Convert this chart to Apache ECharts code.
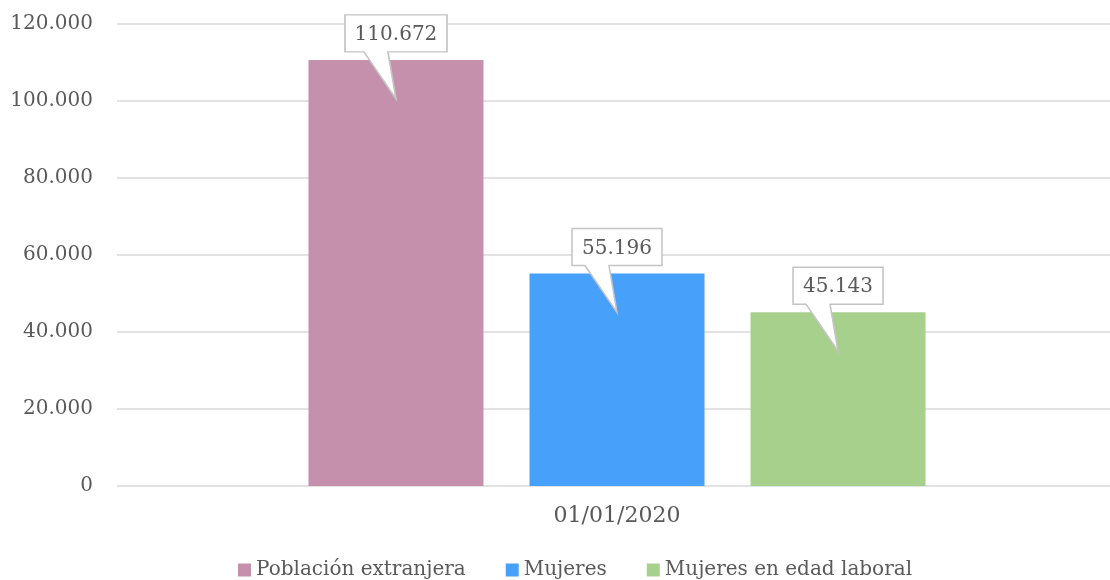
<!DOCTYPE html>
<html>
<head>
<meta charset="utf-8">
<script src="https://cdn.jsdelivr.net/npm/echarts@6/dist/echarts.min.js"></script>
<style>
  html, body { margin: 0; padding: 0; background: #ffffff; }
  #chart { width: 1110px; height: 580px; }
</style>
</head>
<body>
<div id="chart"></div>
<script>
// Población extranjera y mujeres a 01/01/2020
const categories = ['01/01/2020'];
const seriesNames = ['Población extranjera', 'Mujeres', 'Mujeres en edad laboral'];
const poblacionExtranjera = [110672];
const mujeres = [55196];
const mujeresEdadLaboral = [45143];
const yTicks = [0, 20000, 40000, 60000, 80000, 100000, 120000];

const seriesValues = [poblacionExtranjera, mujeres, mujeresEdadLaboral];
const colors = ['#C490AB', '#47A0FA', '#A8D08D'];
const FONT = 'DejaVu Serif';
const TEXT = '#595959';

// Spanish thousands separator
function fmt(v) {
  return String(Math.round(v)).replace(/\B(?=(\d{3})+(?!\d))/g, '.');
}

// Callout balloon: box on top, pointer tip at the bottom
function calloutPath(w) {
  const h = 37, tip = 84, c = w / 2;
  return 'path://M0 0 H' + w + ' V' + h + ' H' + (c - 8) + ' L' + c + ' ' + tip +
    ' L' + (c - 32) + ' ' + h + ' H0 Z';
}

const chart = echarts.init(document.getElementById('chart'), null, { renderer: 'canvas' });

const series = seriesNames.map((name, i) => {
  const v = seriesValues[i][0];
  const w = fmt(v).length > 6 ? 102 : 90;
  return {
    name: name,
    type: 'bar',
    data: seriesValues[i],
    itemStyle: { color: colors[i] },
    barWidth: 175,
    barGap: '26.3%',
    markPoint: {
      symbol: calloutPath(w),
      symbolSize: [w, 84],
      symbolOffset: [0, -3],
      silent: true,
      itemStyle: { color: '#ffffff', borderColor: '#c4c4c4', borderWidth: 1.5 },
      label: {
        show: true,
        position: 'inside',
        offset: [0, -22],
        color: TEXT,
        fontFamily: FONT,
        fontSize: 20,
        formatter: p => fmt(p.value)
      },
      data: [{ type: 'max', name: name }]
    }
  };
});

chart.setOption({
  animation: false,
  backgroundColor: '#ffffff',
  grid: {
    left: 117, top: 24, width: 1000, height: 462,
    containLabel: false, outerBoundsMode: 'none'
  },
  legend: {
    data: seriesNames,
    left: 238,
    top: 560,
    padding: 0,
    icon: 'rect',
    itemWidth: 13,
    itemHeight: 13,
    itemGap: 40,
    textStyle: { color: TEXT, fontFamily: FONT, fontSize: 20 }
  },
  xAxis: {
    type: 'category',
    data: categories,
    axisLine: { show: false },
    axisTick: { show: false },
    axisLabel: { color: TEXT, fontFamily: FONT, fontSize: 22, margin: 19 }
  },
  yAxis: {
    type: 'value',
    min: yTicks[0],
    max: yTicks[yTicks.length - 1],
    interval: yTicks[1] - yTicks[0],
    axisLine: { show: false },
    axisTick: { show: false },
    splitLine: { lineStyle: { color: '#d9d9d9', width: 1.5 } },
    axisLabel: { color: TEXT, fontFamily: FONT, fontSize: 20, margin: 24, formatter: v => fmt(v) }
  },
  series: series
});
</script>
</body>
</html>
